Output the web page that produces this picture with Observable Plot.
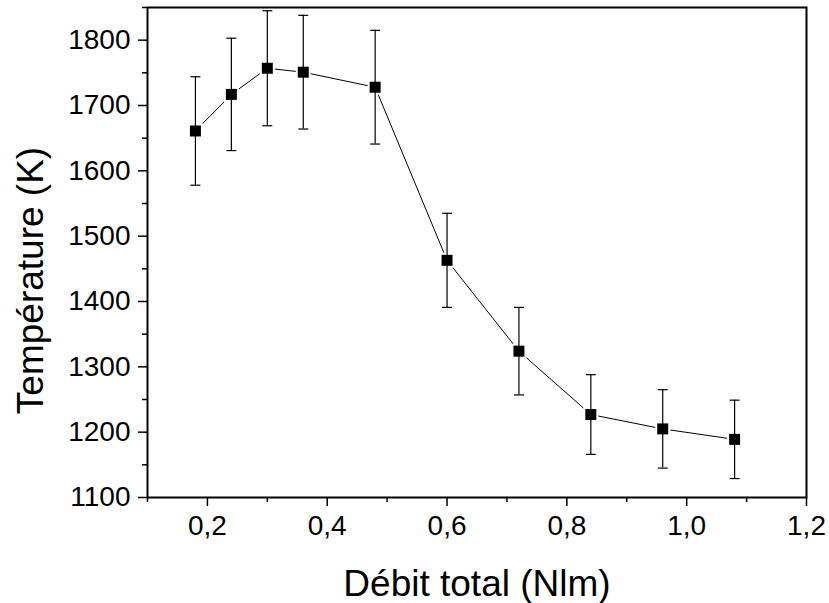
<!DOCTYPE html>
<html>
<head>
<meta charset="utf-8">
<script src="https://cdn.jsdelivr.net/npm/d3@7"></script>
<script src="https://cdn.jsdelivr.net/npm/@observablehq/plot@0.6"></script>
<style>
  body { margin: 0; background: #fff; }
  #chart svg { display: block; }
</style>
</head>
<body>
<div id="chart"></div>
<script>
// Data
const debit = [0.18, 0.24, 0.30, 0.36, 0.48, 0.60, 0.72, 0.84, 0.96, 1.08];
const temperature = [1661, 1717, 1757, 1751, 1728, 1463, 1324, 1227, 1205, 1189];
const erreur = [83, 86, 88, 87, 87, 72, 67, 61, 60, 60];

// Ticks and labels
const xMajor = [0.2, 0.4, 0.6, 0.8, 1.0, 1.2];
const xMinor = [0.1, 0.3, 0.5, 0.7, 0.9, 1.1];
const yMajor = [1100, 1200, 1300, 1400, 1500, 1600, 1700, 1800];
const yMinor = [1150, 1250, 1350, 1450, 1550, 1650, 1750, 1850];
const xLabel = "Débit total (Nlm)";
const yLabel = "Température (K)";

const data = debit.map((x, i) => ({
  x, y: temperature[i], lo: temperature[i] - erreur[i], hi: temperature[i] + erreur[i]
}));

const capSymbol = {
  draw(ctx, size) {
    const w = Math.sqrt(size) / 2;
    ctx.moveTo(-w, 0);
    ctx.lineTo(w, 0);
  }
};

const fmtX = d => d.toFixed(1).replace(".", ",");
const fmtY = d => String(d);

const chart = Plot.plot({
  width: 829,
  height: 603,
  marginLeft: 147,
  marginRight: 23,
  marginTop: 7,
  marginBottom: 106,
  style: { fontFamily: "'Liberation Sans', Arial, sans-serif", color: "#000", background: "#fff" },
  x: { domain: [0.1, 1.2] },
  y: { domain: [1100, 1850] },
  marks: [
    Plot.axisX(xMinor, { tickSize: 5, tickFormat: () => "", strokeWidth: 1.5, label: null }),
    Plot.axisX(xMajor, { tickSize: 9, tickPadding: 9, tickFormat: fmtX, fontSize: 28, strokeWidth: 1.5, label: null }),
    Plot.axisY(yMinor, { tickSize: 5, tickFormat: () => "", strokeWidth: 1.5, label: null }),
    Plot.axisY(yMajor, { tickSize: 9, tickPadding: 8, tickFormat: fmtY, fontSize: 28, strokeWidth: 1.5, label: null }),
    Plot.frame({ stroke: "#000", strokeWidth: 2 }),
    Plot.line(data, { x: "x", y: "y", stroke: "#000", strokeWidth: 1 }),
    Plot.dot(data, { x: "x", y: "y", symbol: "square", r: 6.2, fill: "#000", stroke: "#fff", strokeWidth: 4, paintOrder: "stroke" }),
    Plot.ruleX(data, { x: "x", y1: "lo", y2: "hi", stroke: "#000", strokeWidth: 1.2 }),
    Plot.dot(data, { x: "x", y: "hi", symbol: capSymbol, r: 5.64, stroke: "#000", fill: "none", strokeWidth: 1.2 }),
    Plot.dot(data, { x: "x", y: "lo", symbol: capSymbol, r: 5.64, stroke: "#000", fill: "none", strokeWidth: 1.2 }),
    Plot.text([xLabel], { frameAnchor: "bottom", dy: 98, textAnchor: "middle", lineAnchor: "bottom", fontSize: 37, fill: "#000" }),
    Plot.text([yLabel], { frameAnchor: "left", dx: -105, dy: 28, rotate: -90, textAnchor: "middle", lineAnchor: "bottom", fontSize: 37, fill: "#000" })
  ]
});

document.getElementById("chart").appendChild(chart);
</script>
</body>
</html>
